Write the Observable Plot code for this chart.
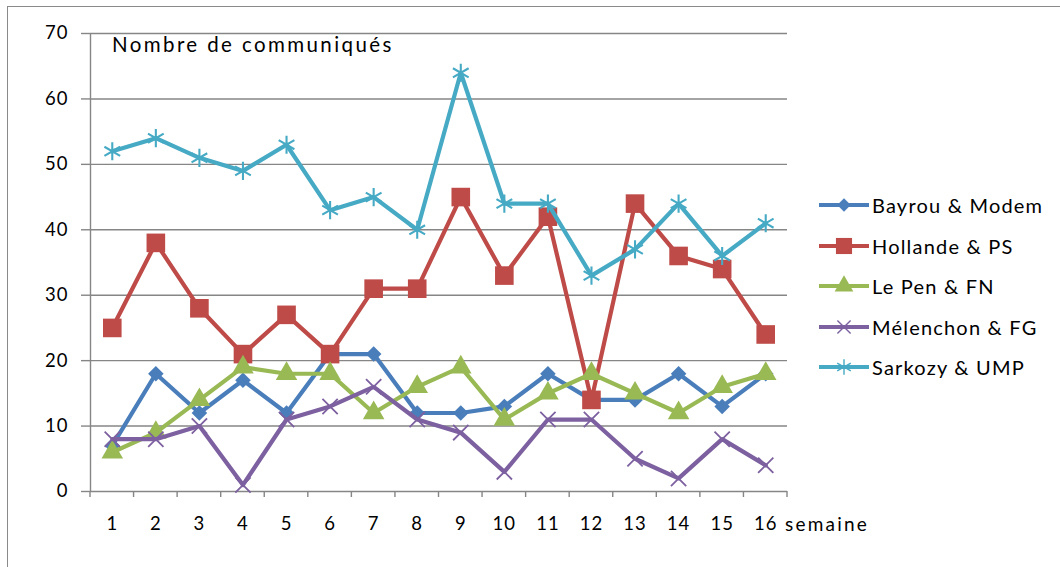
<!DOCTYPE html>
<html>
<head>
<meta charset="utf-8">
<script src="https://cdn.jsdelivr.net/npm/d3@7"></script>
<script src="https://cdn.jsdelivr.net/npm/@observablehq/plot@0.6"></script>
<style>
  html, body { margin: 0; padding: 0; background: #fff; }
  #wrap { position: relative; width: 1060px; height: 567px; overflow: hidden; font-family: Lato, "Open Sans", sans-serif; }
  #frame { position: absolute; left: 7px; top: 6px; width: 1100px; height: 600px; border-left: 1.5px solid #8a8a8a; border-top: 1.5px solid #8a8a8a; }
  #chart { position: absolute; left: 0; top: 0; }
  .lbl { position: absolute; color: #000; white-space: nowrap; line-height: 1; }
  #legend { position: absolute; left: 819px; top: 185px; }
  .item { display: flex; align-items: center; height: 40.5px; font-size: 20px; letter-spacing: 1.2px; color: #000; }
  .item svg { margin-right: 3px; }
</style>
</head>
<body>
<div id="wrap">
  <div id="frame"></div>
  <div id="chart"></div>
  <div class="lbl" id="title" style="left:112px; top:34px; font-size:20.5px; letter-spacing:2.4px;">Nombre de communiqués</div>
  <div class="lbl" id="xlabel" style="left:785px; top:514px; font-size:19px; letter-spacing:2.2px;">semaine</div>
  <div id="legend"></div>
</div>
<script>
const weeks = [1, 2, 3, 4, 5, 6, 7, 8, 9, 10, 11, 12, 13, 14, 15, 16];
const seriesNames = ["Bayrou & Modem", "Hollande & PS", "Le Pen & FN", "Mélenchon & FG", "Sarkozy & UMP"];
const bayrou    = [7, 18, 12, 17, 12, 21, 21, 12, 12, 13, 18, 14, 14, 18, 13, 18];
const hollande  = [25, 38, 28, 21, 27, 21, 31, 31, 45, 33, 42, 14, 44, 36, 34, 24];
const lepen     = [6, 9, 14, 19, 18, 18, 12, 16, 19, 11, 15, 18, 15, 12, 16, 18];
const melenchon = [8, 8, 10, 1, 11, 13, 16, 11, 9, 3, 11, 11, 5, 2, 8, 4];
const sarkozy   = [52, 54, 51, 49, 53, 43, 45, 40, 64, 44, 44, 33, 37, 44, 36, 41];
const yTicks = [0, 10, 20, 30, 40, 50, 60, 70];

const colors  = ["#4a7ebb", "#be4b48", "#98b954", "#7d60a0", "#46aac5"];
const symbolTypes = [d3.symbolDiamond2, d3.symbolSquare, d3.symbolTriangle, d3.symbolTimes, d3.symbolAsterisk];
const radii   = [7, 10.5, 8, 7, 8.6];
const filled  = [true, true, true, false, false];
const markStroke = [0, 0, 0, 1.8, 2.1];

const values = [bayrou, hollande, lepen, melenchon, sarkozy];
const boundaries = d3.range(0, 17).map(i => i + 0.5);

const marks = [
  Plot.ruleY(yTicks, {stroke: "#868686", strokeWidth: 1.4}),
  Plot.ruleX([0.5], {stroke: "#868686", strokeWidth: 1.4}),
];
seriesNames.forEach((s, i) => {
  const d = weeks.map((w, j) => ({series: s, week: w, value: values[i][j]}));
  marks.push(Plot.line(d, {x: "week", y: "value", stroke: colors[i], strokeWidth: 4.2, strokeLinejoin: "round"}));
  marks.push(Plot.dot(d, filled[i]
    ? {x: "week", y: "value", symbol: symbolTypes[i], r: radii[i], fill: colors[i], stroke: "none"}
    : {x: "week", y: "value", symbol: symbolTypes[i], r: radii[i], fill: "none", stroke: colors[i], strokeWidth: markStroke[i]}));
});

const plot = Plot.plot({
  width: 1060,
  height: 567,
  marginLeft: 90,
  marginRight: 273,
  marginTop: 33,
  marginBottom: 76,
  style: {fontFamily: "Lato, sans-serif", fontSize: "18.5px", color: "#000", background: "transparent", overflow: "visible"},
  x: {domain: [0.5, 16.5], ticks: weeks, tickFormat: d => String(d), tickSize: 0, tickPadding: 25, label: null},
  y: {domain: [0, 70], ticks: yTicks, tickSize: 9, tickPadding: 13, label: null},
  marks
});
document.getElementById("chart").appendChild(plot);

// downward x tick marks at category boundaries, placed with the plot's own scales
const xs = plot.scale("x"), ys = plot.scale("y");
const svg = d3.select(plot);
const y0 = ys.apply(0);
svg.append("g").selectAll("line").data(boundaries).join("line")
  .attr("x1", d => xs.apply(d)).attr("x2", d => xs.apply(d))
  .attr("y1", y0).attr("y2", y0 + 6)
  .attr("stroke", "#868686").attr("stroke-width", 1.4);
svg.selectAll("g[aria-label='y-axis tick']").attr("stroke", "#868686").attr("stroke-width", 1.4);
svg.selectAll("g[aria-label='x-axis tick label'], g[aria-label='y-axis tick label']").style("letter-spacing", "1px");

// legend
const leg = d3.select("#legend");
seriesNames.forEach((s, i) => {
  const item = leg.append("div").attr("class", "item");
  const sv = item.append("svg").attr("width", 50).attr("height", 24);
  sv.append("line").attr("x1", 0).attr("x2", 50).attr("y1", 12).attr("y2", 12)
    .attr("stroke", colors[i]).attr("stroke-width", 4);
  const sz = Math.PI * radii[i] * radii[i] * 0.75;
  const p = sv.append("path").attr("transform", "translate(25,12)").attr("d", d3.symbol(symbolTypes[i], sz)());
  if (filled[i]) p.attr("fill", colors[i]); else p.attr("fill", "none").attr("stroke", colors[i]).attr("stroke-width", 1.4);
  item.append("span").text(s);
});
</script>
</body>
</html>
